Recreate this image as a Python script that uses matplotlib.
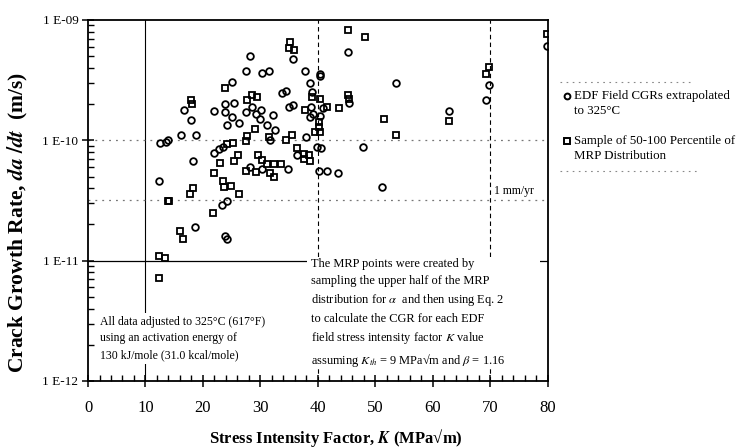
import matplotlib
matplotlib.use("Agg")
import matplotlib.pyplot as plt
from matplotlib.lines import Line2D
from matplotlib.patches import Rectangle
from matplotlib.ticker import FixedLocator, LogLocator, NullFormatter, MultipleLocator

plt.rcParams['font.family'] = ['Liberation Serif', 'DejaVu Serif']
plt.rcParams['mathtext.fontset'] = 'stix'

# EDF field crack growth rates extrapolated to 325 C (circles)
edf_k = [12.5, 13.5, 13.9, 16.1, 18.8, 16.7, 18.0, 18.3, 12.4, 18.6,
         21.9, 21.9, 22.8, 23.5, 24.1, 23.3, 23.8, 24.2,
         25.0, 23.8, 23.8, 25.1, 24.1, 25.4, 26.3,
         28.1, 27.5, 30.3, 31.5, 27.5, 28.5, 29.3, 30.1, 29.9, 31.1, 32.2, 32.5, 31.7,
         28.2, 30.2, 34.8,
         33.7, 34.4, 35.0, 35.7, 35.7, 37.7, 40.3, 40.3, 38.6, 38.9, 38.7, 39.1, 38.6,
         40.3, 40.8, 37.9, 36.3, 39.8, 40.6, 40.2, 41.5, 43.5,
         45.2, 45.4, 53.5, 47.9, 51.2, 62.8, 69.2, 69.8, 79.9]
edf_cgr = [9.5e-11, 9.6e-11, 1.0e-10, 1.1e-10, 1.1e-10, 1.78e-10, 1.48e-10, 6.7e-11, 4.6e-11, 1.9e-11,
           1.75e-10, 7.8e-11, 8.5e-11, 8.8e-11, 3.16e-11, 2.9e-11, 1.6e-11, 1.5e-11,
           3.07e-10, 2.0e-10, 1.72e-10, 1.56e-10, 1.33e-10, 2.04e-10, 1.39e-10,
           5.0e-10, 3.8e-10, 3.6e-10, 3.8e-10, 1.72e-10, 1.9e-10, 1.67e-10, 1.78e-10, 1.51e-10, 1.33e-10, 1.62e-10, 1.21e-10, 1.0e-10,
           5.97e-11, 5.8e-11, 5.8e-11,
           2.45e-10, 2.57e-10, 1.9e-10, 1.95e-10, 4.7e-10, 3.8e-10, 3.55e-10, 3.4e-10, 3.0e-10, 2.5e-10, 1.9e-10, 1.67e-10, 1.55e-10,
           1.6e-10, 1.84e-10, 1.07e-10, 7.5e-11, 8.8e-11, 8.7e-11, 5.6e-11, 5.6e-11, 5.4e-11,
           5.45e-10, 2.06e-10, 2.97e-10, 8.8e-11, 4.07e-11, 1.75e-10, 2.15e-10, 2.9e-10, 6.1e-10]

# MRP 50-100 percentile samples (squares)
mrp_k = [12.4, 13.4, 12.4, 16.0, 16.5, 13.9, 14.1, 17.7, 18.3, 17.9, 18.1,
         21.9, 21.8, 23.0, 24.1, 25.2, 23.5, 23.7, 24.8, 26.3, 23.8, 26.1, 25.4, 27.4, 27.6,
         27.7, 28.5, 29.4, 29.0, 31.4, 29.6, 30.2, 27.4, 29.2, 31.1, 32.3, 33.5, 31.7, 32.4,
         35.1, 35.0, 35.8, 38.9, 40.3, 41.6, 37.7, 40.2, 40.2, 39.5, 40.3, 35.5, 34.4,
         36.3, 37.6, 38.5, 37.6, 38.6, 43.7,
         45.3, 48.2, 45.3, 45.4, 51.4, 53.6, 62.8, 69.3, 69.8, 79.9]
mrp_cgr = [1.1e-11, 1.05e-11, 7.2e-12, 1.78e-11, 1.5e-11, 3.16e-11, 3.16e-11, 3.6e-11, 4.0e-11, 2.15e-10, 2.0e-10,
           5.3e-11, 2.5e-11, 6.5e-11, 9.4e-11, 9.5e-11, 4.6e-11, 4.1e-11, 4.2e-11, 3.6e-11, 2.7e-10, 7.6e-11, 6.7e-11, 9.8e-11, 1.08e-10,
           2.18e-10, 2.37e-10, 2.3e-10, 1.25e-10, 1.07e-10, 7.5e-11, 6.8e-11, 5.6e-11, 5.5e-11, 6.4e-11, 6.3e-11, 6.3e-11, 5.4e-11, 5.0e-11,
           6.6e-10, 5.9e-10, 5.6e-10, 2.3e-10, 2.2e-10, 1.9e-10, 1.78e-10, 1.42e-10, 1.29e-10, 1.17e-10, 1.17e-10, 1.11e-10, 1.01e-10,
           8.7e-11, 7.7e-11, 7.5e-11, 7.0e-11, 6.7e-11, 1.84e-10,
           8.3e-10, 7.2e-10, 2.4e-10, 2.2e-10, 1.5e-10, 1.1e-10, 1.45e-10, 3.55e-10, 4.1e-10, 7.6e-10]

one_mm_per_yr = 1e-3 / (365.25 * 24 * 3600)   # m/s
y_ticks = [1e-12, 1e-11, 1e-10, 1e-9]
y_tick_labels = ['1 E-12', '1 E-11', '1 E-10', '1 E-09']

fig = plt.figure(figsize=(7.42, 4.48), dpi=100)
ax = fig.add_axes([0.1186, 0.1496, 0.6199, 0.8058])

# reference lines
ax.axvline(10, color='black', lw=0.8, zorder=1)
ax.axvline(40, color='black', lw=0.8, ls=(0, (4, 3)), zorder=1)
ax.axvline(70, color='black', lw=0.8, ls=(0, (4, 3)), zorder=1)
ax.axhline(1e-10, color='#777777', lw=0.9, ls=(0, (1.5, 4)), zorder=1)
ax.axhline(one_mm_per_yr, color='#777777', lw=0.9, ls=(0, (1.5, 4)), zorder=1)
ax.axhline(1e-11, color='black', lw=0.9, zorder=1)

ax.plot(edf_k, edf_cgr, 'o', ms=4.8, mfc='none', mec='black', mew=1.3, zorder=3)
ax.plot(mrp_k, mrp_cgr, 's', ms=4.4, mfc='none', mec='black', mew=1.3, zorder=3)

ax.set_yscale('log')
ax.set_xlim(0, 80)
ax.set_ylim(1e-12, 1e-9)

ax.xaxis.set_major_locator(MultipleLocator(10))
ax.xaxis.set_minor_locator(MultipleLocator(2))
ax.yaxis.set_major_locator(FixedLocator(y_ticks))
ax.set_yticklabels(y_tick_labels)
ax.yaxis.set_minor_locator(LogLocator(base=10, subs=range(2, 10)))
ax.yaxis.set_minor_formatter(NullFormatter())

ax.tick_params(axis='both', which='major', direction='inout', length=8, width=1.1)
ax.tick_params(axis='both', which='minor', direction='in', length=4, width=1.0)
ax.tick_params(axis='x', labelsize=12, pad=10)
ax.tick_params(axis='y', labelsize=9.5, pad=3)
ax.tick_params(top=False, right=False, which='both')
for s in ax.spines.values():
    s.set_linewidth(1.3)

ax.set_xlabel('Stress Intensity Factor, $\\boldsymbol{K}$ (MPa√m)',
              fontsize=12, fontweight='bold')
ax.set_ylabel('Crack Growth Rate, $\\boldsymbol{da\\ /dt}$  (m/s)', fontsize=15.5, fontweight='bold')
ax.xaxis.set_label_coords(0.54, -0.128)
ax.yaxis.set_label_coords(-0.126, 0.44)

# notes inside the plot
box = dict(facecolor='white', edgecolor='none', pad=2)
ax.text(2.0, 3.5e-12,
        'All data adjusted to 325°C (617°F)\nusing an activation energy of\n130 kJ/mole (31.0 kcal/mole)',
        fontsize=8.5, va='top', ha='left', linespacing=1.55, bbox=box, zorder=4)
ax.add_patch(Rectangle((38.1, 1.32e-12), 78.6 - 38.1, 1.08e-11 - 1.32e-12,
                       facecolor='white', edgecolor='none', zorder=2))
ax.text(38.7, 1.05e-11,
        'The MRP points were created by\nsampling the upper half of the MRP\n'
        'distribution for $\\alpha$  and then using Eq. 2\nto calculate the CGR for each EDF\n'
        'field stress intensity factor $K$ value\nassuming $K_{th}$ = 9 MPa√m and $\\beta$ = 1.16',
        fontsize=8.9, va='top', ha='left', linespacing=1.5, zorder=4)
ax.text(70.6, 3.35e-11, '1 mm/yr', fontsize=8.5, va='bottom', ha='left', zorder=4)

# legend to the right of the axes, with dotted rules above and below
fig.add_artist(Line2D([560 / 742, 690 / 742], [1 - 82 / 448] * 2, color='#888888',
                      lw=0.8, ls=(0, (1.5, 4))))
fig.add_artist(Line2D([560 / 742, 700 / 742], [1 - 171 / 448] * 2, color='#888888',
                      lw=0.8, ls=(0, (1.5, 4))))
fig.add_artist(Line2D([567 / 742], [1 - 96 / 448], marker='o', ms=4.2, mfc='none',
                      mec='black', mew=1.4))
fig.add_artist(Line2D([567 / 742], [1 - 141 / 448], marker='s', ms=4.0, mfc='none',
                      mec='black', mew=1.4))
legend_lines = [('EDF Field CGRs extrapolated', 96), ('to 325°C', 111),
                ('Sample of 50-100 Percentile of', 141), ('MRP Distribution', 156)]
for txt, ypx in legend_lines:
    fig.text(574 / 742, 1 - ypx / 448, txt, fontsize=9.3, va='center', ha='left')

fig.savefig('out.png', dpi=100)
